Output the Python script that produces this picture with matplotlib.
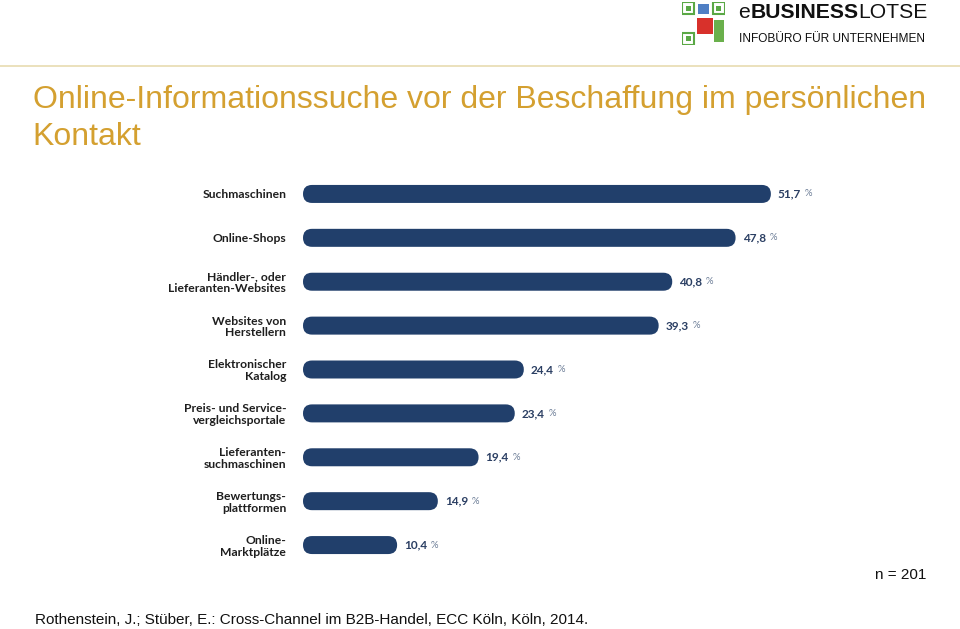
import matplotlib.pyplot as plt
from matplotlib.patches import FancyBboxPatch, Rectangle
import numpy as np

categories = ['Suchmaschinen', 'Online-Shops', 'Händler-, oder\nLieferanten-Websites',
              'Websites von\nHerstellern', 'Elektronischer\nKatalog',
              'Preis- und Service-\nvergleichsportale', 'Lieferanten-\nsuchmaschinen',
              'Bewertungs-\nplattformen', 'Online-\nMarktplätze']
values = [51.7, 47.8, 40.8, 39.3, 24.4, 23.4, 19.4, 14.9, 10.4]
value_labels = ['51,7', '47,8', '40,8', '39,3', '24,4', '23,4', '19,4', '14,9', '10,4']

title_lines = ['Online-Informationssuche vor der Beschaffung im persönlichen', 'Kontakt']
source = 'Rothenstein, J.; Stüber, E.: Cross-Channel im B2B-Handel, ECC Köln, Köln, 2014.'
note = 'n = 201'

W, H = 960, 629
fig = plt.figure(figsize=(W / 100, H / 100), dpi=100)

bar_col = '#213f6b'
gold = '#d4a030'

# axes placed in pixel terms
x0, x1 = 303, 846
y_top, y_bot = 172, 567
ax = fig.add_axes([x0 / W, 1 - y_bot / H, (x1 - x0) / W, (y_bot - y_top) / H])
ax.set_xlim(0, 60)
ax.set_ylim(len(values) - 0.5, -0.5)

ypos = np.arange(len(values))
bh = 0.41
bars = ax.barh(ypos, values, height=bh, color=bar_col)

# swap plain bars for rounded ones
px_x = (x1 - x0) / 60.0
px_y = (y_bot - y_top) / len(values)
r_x = (bh / 2) * px_y / px_x
for b in bars:
    b.set_visible(False)
    p = FancyBboxPatch((b.get_x(), b.get_y()), b.get_width(), b.get_height(),
                       boxstyle='round,pad=0,rounding_size=%f' % r_x,
                       mutation_aspect=(bh / 2) / r_x,
                       fc=bar_col, ec='none')
    ax.add_patch(p)

for y, v, lab in zip(ypos, values, value_labels):
    t = ax.annotate(lab, xy=(v, y), xytext=(5, 0), textcoords='offset points',
                    ha='left', va='center', fontsize=8.5, fontweight='bold',
                    color='#2b3f63', family='Lato')
    ax.annotate('%', xy=(1, 0.5), xycoords=t, xytext=(2.5, 0), textcoords='offset points',
                ha='left', va='center', fontsize=6.8, color='#6b7c96', family='Lato')

ax.set_yticks(ypos)
ax.set_yticklabels(categories, fontsize=8.7, fontweight='bold', family='Lato',
                   color='#1e1e1e', linespacing=1.05)
ax.tick_params(axis='y', length=0, pad=12)
ax.set_xticks([])
for s in ax.spines.values():
    s.set_visible(False)

# header
fig.add_artist(plt.Line2D([0, 1], [1 - 66 / H, 1 - 66 / H], color='#e8dcb0', lw=1.2))
fig.text(33 / W, 1 - 100 / H, title_lines[0], fontsize=23, color=gold,
         family='Liberation Sans', va='center', ha='left')
fig.text(32 / W, 1 - 137 / H, title_lines[1], fontsize=23, color=gold,
         family='Liberation Sans', va='center', ha='left')

e = fig.text(738 / W, 1 - 12 / H, 'e', fontsize=15.2, color='#111111',
             family='Liberation Sans', va='center', ha='left')
bt = fig.add_artist(plt.Annotation('BUSINESS', xy=(1, 0), xycoords=e, xytext=(0.3, 0),
                                   textcoords='offset points', fontsize=15.2, fontweight='bold',
                                   color='#111111', family='Liberation Sans',
                                   va='bottom', ha='left'))
fig.add_artist(plt.Annotation('LOTSE', xy=(1, 0), xycoords=bt, xytext=(0.3, 0),
                              textcoords='offset points', fontsize=15.2, color='#111111',
                              family='Liberation Sans', va='bottom', ha='left'))
fig.text(739 / W, 1 - 39 / H, 'INFOBÜRO FÜR UNTERNEHMEN', fontsize=8.6, color='#111111',
         family='Liberation Sans', va='center', ha='left')

# small QR-like logo
lax = fig.add_axes([682 / W, 1 - 45 / H, 43 / W, 43 / H])
lax.set_xlim(0, 7)
lax.set_ylim(0, 7)
lax.axis('off')
for cx, cy in [(0, 5), (5, 5), (0, 0)]:
    lax.add_patch(Rectangle((cx, cy), 2, 2, fc='none', ec='#5aa845', lw=1.5))
    lax.add_patch(Rectangle((cx + 0.6, cy + 0.6), 0.8, 0.8, fc='#5aa845', ec='none'))
lax.add_patch(Rectangle((2.4, 1.8), 2.6, 2.6, fc='#d8312b', ec='none'))
lax.add_patch(Rectangle((2.6, 5.0), 1.8, 1.6, fc='#4f7fc4', ec='none'))
lax.add_patch(Rectangle((5.2, 0.5), 1.6, 3.5, fc='#6ab04c', ec='none'))

fig.text(926 / W, 1 - 575 / H, note, fontsize=11, color='#111111', family='Liberation Sans',
         ha='right', va='center')
fig.text(35 / W, 1 - 620 / H, source, fontsize=11, color='#111111', family='Liberation Sans',
         ha='left', va='center')

fig.savefig('out.png', dpi=100)
